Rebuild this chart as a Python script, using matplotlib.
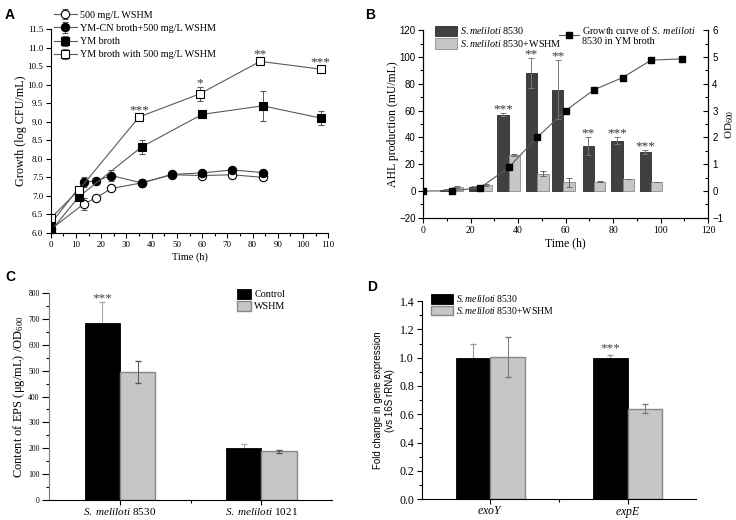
import matplotlib
matplotlib.use("Agg")
import matplotlib.pyplot as plt
from matplotlib.ticker import MultipleLocator, FixedLocator, FormatStrFormatter

plt.rcParams['font.family'] = ['Liberation Serif', 'DejaVu Serif']
plt.rcParams['mathtext.fontset'] = 'custom'
plt.rcParams['mathtext.rm'] = 'Liberation Serif'
plt.rcParams['mathtext.it'] = 'Liberation Serif:italic'
plt.rcParams['axes.linewidth'] = 0.8

SANS = 'Liberation Sans'

# ---------------- data ----------------
# A: growth curves (log CFU/mL)
a_open_c_x = [0, 13, 18, 24, 36, 48, 60, 72, 84]
a_open_c_y = [6.1, 6.78, 6.95, 7.2, 7.35, 7.57, 7.55, 7.57, 7.5]
a_open_c_e = [0.0, 0.15, 0.03, 0.06, 0.03, 0.03, 0.03, 0.1, 0.05]
a_fill_c_x = [0, 13, 18, 24, 36, 48, 60, 72, 84]
a_fill_c_y = [6.25, 7.38, 7.4, 7.55, 7.35, 7.58, 7.62, 7.7, 7.63]
a_fill_c_e = [0.0, 0.13, 0.03, 0.15, 0.03, 0.03, 0.03, 0.03, 0.03]
a_fill_s_x = [0, 11, 36, 60, 84, 107]
a_fill_s_y = [6.05, 6.97, 8.32, 9.2, 9.43, 9.1]
a_fill_s_e = [0.0, 0.05, 0.18, 0.04, 0.4, 0.2]
a_open_s_x = [0, 11, 35, 59, 83, 107]
a_open_s_y = [6.4, 7.15, 9.13, 9.75, 10.63, 10.42]
a_open_s_e = [0.0, 0.06, 0.08, 0.2, 0.03, 0.05]
a_star_idx = [2, 3, 4, 5]
a_stars = ['***', '*', '**', '***']

# B: AHL production and OD600 growth
b_time = [12, 24, 36, 48, 59, 72, 84, 96]
b_ctrl = [1, 3, 57, 88, 75.5, 33.5, 37.5, 29]
b_ctrl_e = [0.5, 0.5, 1, 11, 22, 6.5, 2.5, 1.5]
b_wshm = [3, 4.5, 27, 13, 6.5, 7, 9, 7]
b_wshm_e = [1, 0.5, 1, 2, 3.5, 0.5, 0.3, 0]
b_star_idx = [2, 3, 4, 5, 6, 7]
b_stars = ['***', '**', '**', '**', '***', '***']
b_od_x = [0, 12, 24, 36, 48, 60, 72, 84, 96, 109]
b_od_y = [0, 0.01, 0.12, 0.88, 2.0, 3.0, 3.78, 4.23, 4.88, 4.93]

# C: EPS content
c_strains = ['$\\it{S.\\ meliloti}$ 8530', '$\\it{S.\\ meliloti}$ 1021']
c_ctrl = [685, 200]
c_ctrl_e = [78, 15]
c_wshm = [493, 188]
c_wshm_e = [42, 5]

# D: gene expression
d_genes = ['$\\it{exoY}$', '$\\it{expE}$']
d_ctrl = [1.0, 1.0]
d_ctrl_e = [0.095, 0.022]
d_wshm = [1.005, 0.64]
d_wshm_e = [0.14, 0.033]

DARK = '#404040'
LIGHT = '#c6c6c6'
LINE = '#5a5a5a'
LEG = 7.3

fig = plt.figure(figsize=(7.36, 5.2), dpi=100)


def style(ax, sides=('left', 'bottom'), size=6.5):
    for s in ('top', 'right', 'left', 'bottom'):
        ax.spines[s].set_visible(s in sides)
    ax.tick_params(which='major', length=3.5, width=0.8, labelsize=size, pad=2)
    ax.tick_params(which='minor', length=2, width=0.8)


def star(ax, x, y, s, color='#333333'):
    # asterisks sit high in the font, so anchor on the baseline
    ax.annotate(s, (x, y), xytext=(0, 0.5), textcoords='offset points',
                ha='center', va='baseline', fontsize=9.5, color=color)


# ---------------- A ----------------
ax = fig.add_axes([0.069, 0.552, 0.377, 0.392])
style(ax)
kw = dict(color=LINE, lw=0.8, ms=6, mec='black', mew=0.8, ecolor=LINE,
          elinewidth=0.7, capsize=2, capthick=0.7)
ax.errorbar(a_open_c_x, a_open_c_y, yerr=a_open_c_e, marker='o', mfc='white',
            label='500 mg/L WSHM', **kw)
ax.errorbar(a_fill_c_x, a_fill_c_y, yerr=a_fill_c_e, marker='o', mfc='black',
            label='YM-CN broth+500 mg/L WSHM', **kw)
ax.errorbar(a_fill_s_x, a_fill_s_y, yerr=a_fill_s_e, marker='s', mfc='black',
            label='YM broth', **kw)
ax.errorbar(a_open_s_x, a_open_s_y, yerr=a_open_s_e, marker='s', mfc='white',
            label='YM broth with 500 mg/L WSHM', **kw)
for i, s in zip(a_star_idx, a_stars):
    star(ax, a_open_s_x[i], a_open_s_y[i] + max(a_open_s_e[i], 0.08), s)
ax.set_xlim(0, 110)
ax.set_ylim(6.0, 11.5)
ax.xaxis.set_major_locator(MultipleLocator(10))
ax.xaxis.set_minor_locator(MultipleLocator(5))
ax.yaxis.set_major_locator(MultipleLocator(0.5))
ax.yaxis.set_major_formatter(FormatStrFormatter('%.1f'))
ax.set_xlabel('Time (h)', fontsize=7.5, labelpad=3)
ax.set_ylabel('Growth (log CFU/mL)', fontsize=8.7, labelpad=0)
ax.legend(loc='upper left', bbox_to_anchor=(0.01, 1.09), frameon=False,
          fontsize=LEG, handlelength=2.3, handletextpad=0.3,
          labelspacing=0.4, borderpad=0, borderaxespad=0)
fig.text(0.007, 0.985, 'A', fontsize=10, fontweight='bold', family=SANS, va='top')

# ---------------- B ----------------
ax = fig.add_axes([0.575, 0.581, 0.387, 0.361])
style(ax, ('left', 'bottom', 'right'), size=7)
w = 4.8
ax.bar([t - w / 2 for t in b_time], b_ctrl, width=w, color=DARK,
       edgecolor='#2a2a2a', lw=0.6, label='$\\it{S.meliloti}$ 8530')
ax.bar([t + w / 2 for t in b_time], b_wshm, width=w, color=LIGHT,
       edgecolor='#8a8a8a', lw=0.6, label='$\\it{S.meliloti}$ 8530+WSHM')
ax.errorbar([t - w / 2 for t in b_time], b_ctrl, yerr=b_ctrl_e, fmt='none',
            ecolor='#777777', elinewidth=0.7, capsize=2, capthick=0.7)
ax.errorbar([t + w / 2 for t in b_time], b_wshm, yerr=b_wshm_e, fmt='none',
            ecolor='#666666', elinewidth=0.7, capsize=2, capthick=0.7)
for i, s in zip(b_star_idx, b_stars):
    star(ax, b_time[i] - w / 2, b_ctrl[i] + b_ctrl_e[i], s)
ax.set_xlim(0, 120)
ax.set_ylim(-20, 120)
ax.xaxis.set_major_locator(MultipleLocator(20))
ax.xaxis.set_minor_locator(MultipleLocator(10))
ax.yaxis.set_major_locator(MultipleLocator(20))
ax.yaxis.set_minor_locator(MultipleLocator(10))
for lab in ax.get_yticklabels():
    lab.set_family(SANS)
ax.set_xlabel('Time (h)', fontsize=8.5, labelpad=2)
ax.set_ylabel('AHL production (mU/mL)', fontsize=8.5, labelpad=0)
ax.legend(loc='upper left', bbox_to_anchor=(0.04, 1.025), fontsize=LEG,
          frameon=False, handlelength=2.2, handleheight=1.25, handletextpad=0.3,
          labelspacing=0.15, borderpad=0, borderaxespad=0)

ax2 = ax.twinx()
style(ax2, ('left', 'bottom', 'right'), size=7)
ax2.plot(b_od_x, b_od_y, color=LINE, lw=0.8, marker='s', ms=5, mfc='black',
         mec='black', label='Growth curve of $\\it{S.\\ meliloti}$\n8530 in YM broth')
ax2.set_ylim(-1, 6)
ax2.yaxis.set_major_locator(MultipleLocator(1))
ax2.yaxis.set_minor_locator(MultipleLocator(0.5))
ax2.tick_params(axis='y', which='both', direction='in', pad=3)
for lab in ax2.get_yticklabels():
    lab.set_family(SANS)
ax2.set_ylabel('OD$_{600}$', fontsize=8, labelpad=0)
ax2.legend(loc='upper left', bbox_to_anchor=(0.476, 1.035), fontsize=LEG,
           frameon=False, handlelength=2.0, handletextpad=0.3,
           borderpad=0, borderaxespad=0)
fig.text(0.496, 0.985, 'B', fontsize=10, fontweight='bold', family=SANS, va='top')

# ---------------- C ----------------
ax = fig.add_axes([0.067, 0.038, 0.384, 0.399])
style(ax, size=5.5)
ax.tick_params(axis='y', which='major', length=5)
ax.spines['left'].set_color('#777777')
pos = [1, 2]
bw = 0.25
ax.errorbar([p - bw / 2 for p in pos], c_ctrl, yerr=c_ctrl_e, fmt='none',
            ecolor='#aaaaaa', elinewidth=0.8, capsize=2.5, zorder=1)
ax.bar([p - bw / 2 for p in pos], c_ctrl, width=bw, color='black',
       edgecolor='black', lw=0.6, label='Control', zorder=2)
ax.bar([p + bw / 2 for p in pos], c_wshm, width=bw, color=LIGHT,
       edgecolor='#888888', lw=1.0, label='WSHM', zorder=2)
ax.errorbar([p + bw / 2 for p in pos], c_wshm, yerr=c_wshm_e, fmt='none',
            ecolor='#555555', elinewidth=0.7, capsize=2.5, zorder=3)
star(ax, pos[0] - bw / 2, c_ctrl[0] + c_ctrl_e[0], '***', '#444444')
ax.set_xlim(0.5, 2.5)
ax.set_ylim(0, 800)
ax.xaxis.set_major_locator(FixedLocator(pos))
ax.xaxis.set_minor_locator(FixedLocator([1.5]))
ax.set_xticklabels(c_strains)
ax.tick_params(axis='x', labelsize=8, pad=1)
ax.yaxis.set_major_locator(MultipleLocator(100))
ax.yaxis.set_minor_locator(MultipleLocator(50))
ax.set_ylabel('Content of EPS (\u03bcg/mL) /OD$_{600}$', fontsize=9, labelpad=1)
ax.legend(loc='upper left', bbox_to_anchor=(0.664, 1.02), fontsize=LEG,
          frameon=False, handlelength=1.4, handleheight=1.2, handletextpad=0.3,
          labelspacing=0.15, borderpad=0, borderaxespad=0)
fig.text(0.007, 0.481, 'C', fontsize=10, fontweight='bold', family=SANS, va='top')

# ---------------- D ----------------
ax = fig.add_axes([0.573, 0.040, 0.373, 0.381])
style(ax, size=8.5)
ax.errorbar([p - bw / 2 for p in pos], d_ctrl, yerr=d_ctrl_e, fmt='none',
            ecolor='#999999', elinewidth=0.8, capsize=2.5, zorder=1)
ax.bar([p - bw / 2 for p in pos], d_ctrl, width=bw, color='black',
       edgecolor='black', lw=0.6, label='$\\it{S.meliloti}$ 8530', zorder=2)
ax.bar([p + bw / 2 for p in pos], d_wshm, width=bw, color=LIGHT,
       edgecolor='#888888', lw=1.0, label='$\\it{S.meliloti}$ 8530+WSHM', zorder=2)
ax.errorbar([p + bw / 2 for p in pos], d_wshm, yerr=d_wshm_e, fmt='none',
            ecolor='#777777', elinewidth=0.7, capsize=2.5, zorder=3)
star(ax, pos[1] - bw / 2, d_ctrl[1] + d_ctrl_e[1] + 0.02, '***', '#444444')
ax.set_xlim(0.5, 2.5)
ax.set_ylim(0, 1.4)
ax.xaxis.set_major_locator(FixedLocator(pos))
ax.xaxis.set_minor_locator(FixedLocator([1.5]))
ax.set_xticklabels(d_genes)
ax.tick_params(axis='x', labelsize=8.5, pad=1)
ax.yaxis.set_major_locator(MultipleLocator(0.2))
ax.yaxis.set_minor_locator(MultipleLocator(0.1))
ax.yaxis.set_major_formatter(FormatStrFormatter('%.1f'))
ax.set_ylabel('Fold change in gene expression\n(vs 16S rRNA)', fontsize=7,
              family=SANS, labelpad=3, linespacing=1.3)
ax.legend(loc='upper left', bbox_to_anchor=(0.033, 1.04), fontsize=7,
          frameon=False, handlelength=2.3, handleheight=1.1, handletextpad=0.3,
          labelspacing=0.05, borderpad=0, borderaxespad=0)
fig.text(0.499, 0.462, 'D', fontsize=10, fontweight='bold', family=SANS, va='top')

fig.savefig('out.png', dpi=100)
